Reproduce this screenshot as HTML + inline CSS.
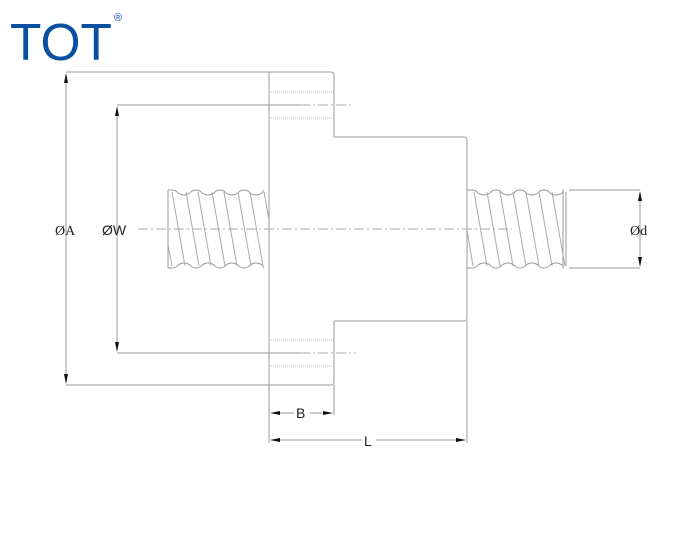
<!DOCTYPE html>
<html><head><meta charset="utf-8"><style>
html,body{margin:0;padding:0;background:#fff;}
svg{display:block;}
</style></head><body>
<svg width="698" height="533" viewBox="0 0 698 533" xmlns="http://www.w3.org/2000/svg">
<text x="10" y="60" font-family="Liberation Sans, sans-serif" font-size="52" fill="#0a4fa0" textLength="102" lengthAdjust="spacingAndGlyphs">TOT</text>
<text x="114" y="21" font-family="Liberation Sans, sans-serif" font-size="11" fill="#0a4fa0">®</text>
<g stroke="#999" stroke-width="1" fill="none">
<path d="M269,72 H331 Q334,72 334,75 V137 M334,321 V382 Q334,385 331,385 H269 V72"/>
<path d="M334,137 H464 Q467,137 467,140 V318 Q467,321 464,321 H334"/>
<path d="M467,321 V443"/>
<g stroke-dasharray="1,1" stroke="#bbb">
<line x1="269" y1="92" x2="334" y2="92"/><line x1="269" y1="118" x2="334" y2="118"/>
<line x1="269" y1="340" x2="334" y2="340"/><line x1="269" y1="366" x2="334" y2="366"/>
</g>
<g stroke-dasharray="10,3,2,3" stroke="#aaa">
<line x1="300" y1="105" x2="352" y2="105"/>
<line x1="300" y1="353" x2="356" y2="353"/>
<line x1="138" y1="229" x2="512" y2="229"/>
</g>
<line x1="66" y1="72" x2="269" y2="72"/>
<line x1="66" y1="385" x2="269" y2="385"/>
<line x1="66" y1="75" x2="66" y2="382"/>
<line x1="117" y1="105" x2="300" y2="105"/>
<line x1="117" y1="353" x2="300" y2="353"/>
<line x1="117" y1="108" x2="117" y2="350"/>
<line x1="569" y1="190" x2="640" y2="190"/>
<line x1="569" y1="268" x2="640" y2="268"/>
<line x1="640" y1="193" x2="640" y2="265"/>
<line x1="269" y1="385" x2="269" y2="443"/>
<line x1="334" y1="385" x2="334" y2="415"/>
<line x1="272" y1="413" x2="294" y2="413"/><line x1="310" y1="413" x2="331" y2="413"/>
<line x1="272" y1="440" x2="362" y2="440"/><line x1="376" y1="440" x2="464" y2="440"/>
<!-- left screw -->
<path d="M168,190 V268 M168,190 H172 q4,0 6,3 q6,4 12,0 q2,-3 6,-3 q4,0 6,3 q6,4 12,0 q2,-3 6,-3 q4,0 6,3 q6,4 12,0 q2,-3 6,-3 q4,0 6,3 q6,4 12,0 q2,-3 1,-3"/>
<path d="M168,268 H172 q4,0 6,-3 q6,-4 12,0 q2,3 6,3 q4,0 6,-3 q6,-4 12,0 q2,3 6,3 q4,0 6,-3 q6,-4 12,0 q2,3 6,3 q4,0 6,-3 q6,-4 12,0 q2,3 1,3"/>
<g stroke="#aaa">
<line x1="172" y1="192" x2="185" y2="266"/><line x1="186" y1="192" x2="199" y2="266"/>
<line x1="198" y1="192" x2="211" y2="266"/><line x1="212" y1="192" x2="225" y2="266"/>
<line x1="224" y1="192" x2="237" y2="266"/><line x1="238" y1="192" x2="251" y2="266"/>
<line x1="250" y1="192" x2="263" y2="266"/><line x1="264" y1="192" x2="269" y2="220"/>
<line x1="168" y1="245" x2="172" y2="266"/>
</g>
<!-- right screw -->
<path d="M467,190 H472 q4,0 6,3 q6,4 12,0 q2,-3 6,-3 q4,0 6,3 q6,4 12,0 q2,-3 6,-3 q4,0 6,3 q6,4 12,0 q2,-3 6,-3 q4,0 6,3 q6,4 12,0 q2,-3 1,-3 V268"/>
<path d="M467,268 H472 q4,0 6,-3 q6,-4 12,0 q2,3 6,3 q4,0 6,-3 q6,-4 12,0 q2,3 6,3 q4,0 6,-3 q6,-4 12,0 q2,3 6,3 q4,0 6,-3 q6,-4 12,0 q2,3 1,3"/>
<line x1="566" y1="192" x2="566" y2="266"/>
<g stroke="#aaa">
<line x1="474" y1="192" x2="487" y2="266"/><line x1="487" y1="192" x2="500" y2="266"/>
<line x1="500" y1="192" x2="513" y2="266"/><line x1="513" y1="192" x2="526" y2="266"/>
<line x1="526" y1="192" x2="539" y2="266"/><line x1="539" y1="192" x2="552" y2="266"/>
<line x1="552" y1="192" x2="565" y2="266"/><line x1="467" y1="230" x2="473" y2="266"/>
</g>
</g>
<g fill="#111">
<polygon points="66,73 64,83 68,83"/><polygon points="66,384 64,374 68,374"/>
<polygon points="117,106 115,116 119,116"/><polygon points="117,352 115,342 119,342"/>
<polygon points="640,191 638,201 642,201"/><polygon points="640,267 638,257 642,257"/>
<polygon points="270,413 280,411 280,415"/><polygon points="333,413 323,411 323,415"/>
<polygon points="270,440 280,438 280,442"/><polygon points="466,440 456,438 456,442"/>
</g>
<g font-family="Liberation Serif, serif" font-size="14" fill="#222">
<text x="55" y="235">ØA</text>
<text x="102" y="235" font-family="Liberation Sans, sans-serif">ØW</text>
<text x="630" y="235">Ød</text>
</g>
<g font-family="Liberation Sans, sans-serif" font-size="14" fill="#222">
<text x="296" y="418">B</text>
<text x="364" y="446">L</text>
</g>
</svg>
</body></html>
